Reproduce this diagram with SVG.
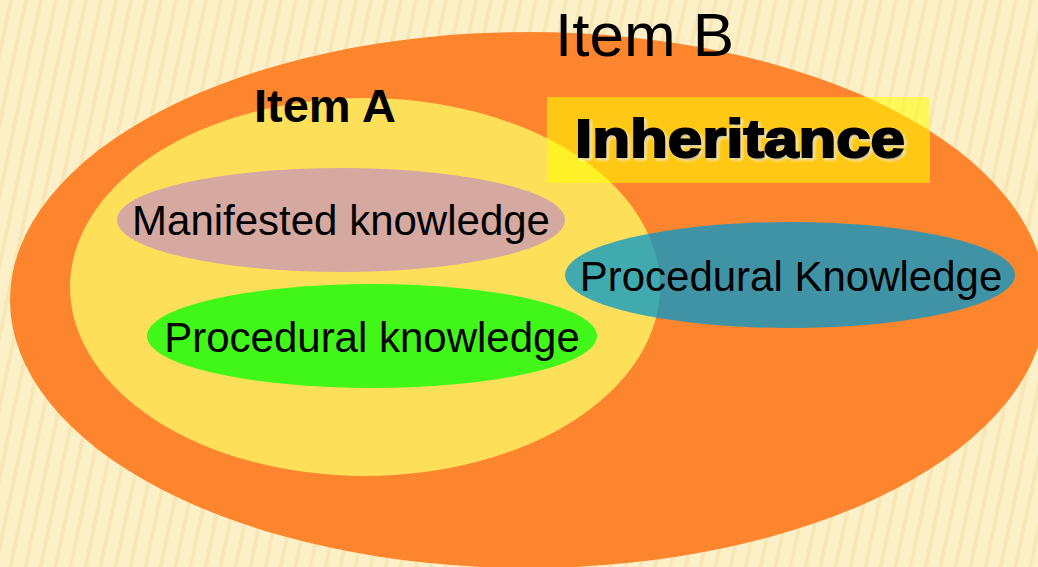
<svg xmlns="http://www.w3.org/2000/svg" width="1038" height="567" viewBox="0 0 1038 567">
  <defs>
    <pattern id="stripes" width="15" height="567" patternUnits="userSpaceOnUse" patternTransform="skewX(-12)">
      <rect width="15" height="567" fill="#FCF0C8"/>
      <rect x="9" width="4" height="567" fill="#F1DFA6" opacity="0.55"/>
    </pattern>
    <filter id="glow" x="-5%" y="-20%" width="110%" height="140%">
      <feGaussianBlur stdDeviation="1.5"/>
    </filter>
    <style>
      .lbl { font-family: "Liberation Sans", Arial, sans-serif; fill: #000; }
      .kn { font-size: 42px; }
      .bold { font-weight: bold; }
    </style>
  </defs>

  <rect id="background" width="1038" height="567" fill="url(#stripes)"/>

  <g id="node-item-b">
    <ellipse cx="528" cy="300" rx="518" ry="268" fill="#FD852E"/>
    <text class="lbl" x="555" y="56" font-size="62">Item B</text>
  </g>

  <g id="node-item-a">
    <ellipse cx="365" cy="287" rx="295" ry="189" fill="#FEDF5A"/>
    <text class="lbl bold" x="254" y="122" font-size="47">Item A</text>
  </g>

  <g id="node-manifested">
    <ellipse cx="341" cy="220" rx="224" ry="52" fill="#D5A8A0"/>
    <text class="lbl kn" x="341" y="235" text-anchor="middle">Manifested knowledge</text>
  </g>

  <g id="node-procedural-a">
    <ellipse cx="372" cy="336" rx="225" ry="52" fill="#41F719"/>
    <text class="lbl kn" x="372" y="352" text-anchor="middle">Procedural knowledge</text>
  </g>

  <g id="node-procedural-b">
    <ellipse cx="790" cy="275" rx="225" ry="53" fill="#0098CC" fill-opacity="0.75"/>
    <text class="lbl kn" x="791" y="291" text-anchor="middle">Procedural Knowledge</text>
  </g>

  <g id="node-inheritance">
    <rect x="547" y="97" width="383" height="86" fill="#FFFF00" fill-opacity="0.55"/>
    <text class="lbl bold" x="577" y="159" font-size="53" textLength="330" lengthAdjust="spacingAndGlyphs" fill="#FFFFFF" stroke="#FFFFFF" stroke-width="2" filter="url(#glow)" opacity="0.9">Inheritance</text>
    <text class="lbl bold" x="575" y="157" font-size="53" textLength="330" lengthAdjust="spacingAndGlyphs" stroke="#000" stroke-width="2">Inheritance</text>
  </g>

  <g id="connectors"/>
</svg>
